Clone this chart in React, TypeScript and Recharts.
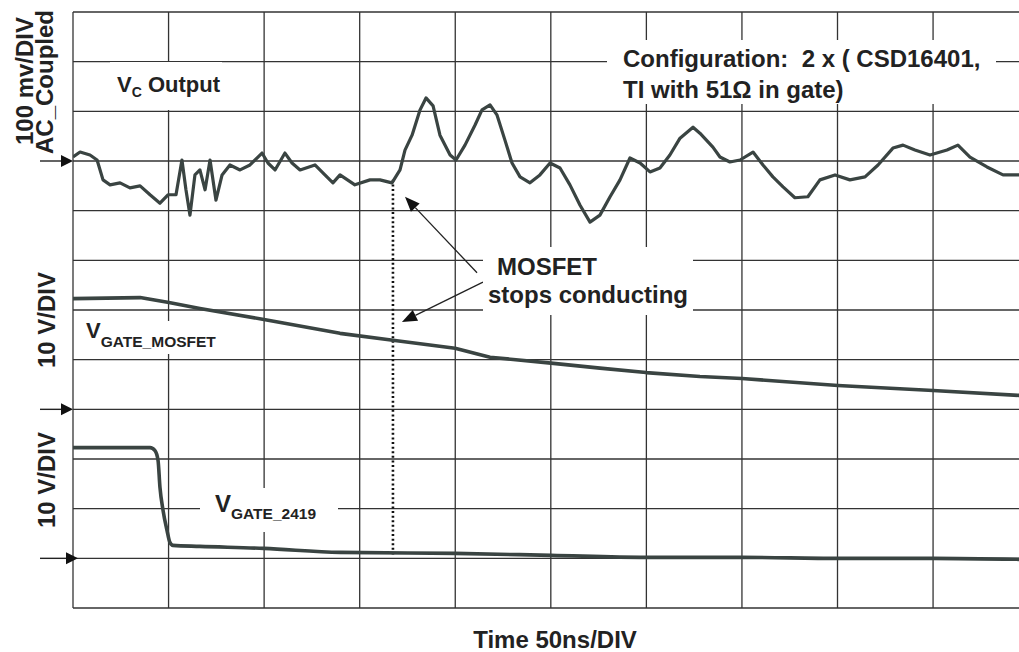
import React from 'react';
import { LineChart, Line, XAxis, YAxis, ReferenceLine } from 'recharts';

// time in ns (50 ns/div)
const vcTime = [0, 3.7, 8.9, 12.6, 15.7, 19.4, 24.6, 29.8, 35.1, 40.3, 45.5, 49.7, 53.9, 57.0, 59.1, 61.2, 63.8, 66.4, 69.1, 71.7, 74.8, 78.0, 82.1, 87.4, 92.6, 98.9, 102.0, 105.7, 110.9, 114.6, 118.8, 126.6, 131.8, 136.0, 139.7, 147.5, 155.4, 160.6, 166.9, 171.1, 173.7, 177.4, 181.6, 184.7, 188.4, 192.0, 197.3, 200.4, 205.1, 210.3, 214.0, 218.2, 221.8, 226.0, 229.7, 233.9, 239.1, 244.3, 249.6, 254.8, 260.0, 265.3, 270.5, 275.7, 281.0, 286.2, 291.4, 296.7, 301.9, 307.1, 312.3, 317.6, 324.4, 328.0, 334.8, 338.5, 343.7, 349.0, 355.8, 361.0, 366.2, 371.5, 377.7, 384.5, 390.8, 398.7, 406.5, 414.4, 421.2, 429.0, 434.3, 440.5, 448.4, 457.3, 463.0, 469.3, 478.2, 486.6, 495.0];
const vcMv = [8, 18, 12, 2, -38, -48, -44, -54, -50, -68, -85, -68, -68, 2, -58, -109, -28, -18, -58, 2, -79, -28, -8, -18, -8, 16, -4, -18, 16, -4, -18, -8, -28, -44, -28, -48, -38, -38, -44, -18, 22, 52, 103, 127, 111, 52, 12, 2, 32, 72, 103, 113, 93, 42, -4, -32, -44, -28, -4, -14, -48, -89, -123, -109, -72, -38, 6, -4, -22, -14, 12, 46, 68, 56, 28, 8, -2, 2, 18, -8, -32, -52, -74, -72, -38, -28, -38, -32, -8, 26, 32, 22, 12, 22, 32, 8, -12, -28, -28];

const gateMosfetTime = [0, 35.1, 50.2, 66.4, 99.9, 139.7, 167.4, 199.9, 218.2, 250.1, 275.7, 299.8, 328.0, 350.0, 400.2, 450.0, 495.0];
const gateMosfetV = [22.3, 22.5, 21.5, 20.3, 18.1, 15.3, 13.9, 12.3, 10.5, 9.3, 8.3, 7.4, 6.6, 6.2, 4.8, 3.8, 2.8];

const gate2419Time = [0, 40.3, 42.9, 44.5, 45.5, 47.1, 49.2, 50.7, 52.3, 66.4, 99.9, 139.7, 199.9, 250.1, 299.8, 350.0, 400.2, 450.0, 495.0];
const gate2419V = [22.3, 22.3, 21.7, 19.7, 14.3, 9.7, 5.6, 3.2, 2.6, 2.4, 2.0, 1.2, 1.0, 0.6, 0.2, 0.2, 0, 0, -0.2];

const timeTicks = [0, 50, 100, 150, 200, 250, 300, 350, 400, 450];
const divTicks = [0, 1, 2, 3, 4, 5, 6, 7, 8, 9, 10, 11, 12];

// channel zero markers (divisions from bottom) and scales
const vcZero = 9;
const gateMosfetZero = 4;
const gate2419Zero = 1;
const mvPerDiv = 100;
const voltsPerDiv = 10;

const stopTime = 167.4;

const vcData = vcTime.map((t, i) => ({ t, y: vcZero + vcMv[i] / mvPerDiv }));
const gateMosfetData = gateMosfetTime.map((t, i) => ({ t, y: gateMosfetZero + gateMosfetV[i] / voltsPerDiv }));
const gate2419Data = gate2419Time.map((t, i) => ({ t, y: gate2419Zero + gate2419V[i] / voltsPerDiv }));

const TRACE = '#3a4442';
const INK = '#222';
const GRID = '#333';
const FONT = "'Liberation Sans', Arial, Helvetica, sans-serif";

const ArrowShape = (props: any) => {
    const { x1, y1, x2, y2 } = props;
    const ang = Math.atan2(y2 - y1, x2 - x1);
    const len = 15;
    const w = 6;
    const bx = x2 - len * Math.cos(ang);
    const by = y2 - len * Math.sin(ang);
    const px = -Math.sin(ang) * w;
    const py = Math.cos(ang) * w;
    return (
        <g>
            <line x1={x1} y1={y1} x2={bx} y2={by} stroke={INK} strokeWidth={1.3} />
            <polygon points={`${x2},${y2} ${bx + px},${by + py} ${bx - px},${by - py}`} fill="#111" />
        </g>
    );
};

const zeroMarker = (overshoot: number) => (props: any) => {
    const left = Math.min(props.x1, props.x2);
    const y = props.y1;
    const tip = left + overshoot;
    return (
        <g>
            <line x1={left - 33} y1={y} x2={tip - 10} y2={y} stroke={INK} strokeWidth={1.4} />
            <polygon points={`${tip},${y} ${tip - 12},${y - 6} ${tip - 12},${y + 6}`} fill="#111" />
        </g>
    );
};

const App: React.FC = () => {
    const txt = { fontFamily: FONT, fontWeight: 700, fill: INK } as const;
    return (
        <div style={{ position: 'absolute', left: 0, top: 0, width: 1019, height: 652, overflow: 'hidden', background: '#fff' }}>
            {/* the scope screen runs a little past the right edge of the picture */}
            <LineChart width={1025} height={652} margin={{ top: 12, right: 0, left: 73, bottom: 44 }}>
                <XAxis
                    dataKey="t"
                    type="number"
                    domain={[0, 498.1]}
                    ticks={timeTicks}
                    interval={0}
                    allowDataOverflow
                    tick={false}
                    tickLine={false}
                    axisLine={false}
                    height={0}
                />
                <YAxis
                    type="number"
                    domain={[0, 12]}
                    ticks={divTicks}
                    interval={0}
                    allowDataOverflow
                    tick={false}
                    tickLine={false}
                    axisLine={false}
                    width={0}
                />
                {timeTicks.map((t) => (
                    <ReferenceLine key={`gx${t}`} x={t} stroke={GRID} strokeWidth={1.3} ifOverflow="visible" />
                ))}
                {divTicks.map((d) => (
                    <ReferenceLine key={`gy${d}`} y={d} stroke={GRID} strokeWidth={1.3} ifOverflow="visible" />
                ))}
                <ReferenceLine y={vcZero} ifOverflow="visible" shape={zeroMarker(0)} />
                <ReferenceLine y={gateMosfetZero} ifOverflow="visible" shape={zeroMarker(0)} />
                <ReferenceLine y={gate2419Zero} ifOverflow="visible" shape={zeroMarker(5)} />
                <ReferenceLine
                    segment={[{ x: stopTime, y: 8.62 }, { x: stopTime, y: 1.07 }]}
                    stroke="#111"
                    strokeWidth={2.6}
                    strokeDasharray="2 2.6"
                />
                <ReferenceLine segment={[{ x: 211.4, y: 6.75 }, { x: 173.7, y: 8.28 }]} shape={ArrowShape} />
                <ReferenceLine segment={[{ x: 214.5, y: 6.56 }, { x: 172.1, y: 5.76 }]} shape={ArrowShape} />
                <Line data={vcData} dataKey="y" type="linear" stroke={TRACE} strokeWidth={3.2} dot={false} isAnimationActive={false} strokeLinejoin="round" />
                <Line data={gateMosfetData} dataKey="y" type="linear" stroke={TRACE} strokeWidth={3.6} dot={false} isAnimationActive={false} strokeLinejoin="round" />
                <Line data={gate2419Data} dataKey="y" type="monotone" stroke={TRACE} strokeWidth={3.6} dot={false} isAnimationActive={false} strokeLinejoin="round" />
            </LineChart>
            <svg width={1019} height={652} style={{ position: 'absolute', left: 0, top: 0, pointerEvents: 'none' }}>
                <rect x={110} y={62} width={112} height={48} fill="#fff" />
                <rect x={607} y={40} width={389} height={64} fill="#fff" />
                <rect x={483} y={247} width={210} height={68} fill="#fff" />
                <rect x={84} y={321} width={138} height={33} fill="#fff" />
                <rect x={200} y={488} width={138} height={44} fill="#fff" />

                <text transform="translate(33,81) rotate(-90)" textAnchor="middle" fontSize={24} {...txt}>100 mv/DIV</text>
                <text transform="translate(53,82) rotate(-90)" textAnchor="middle" fontSize={24} {...txt}>AC_Coupled</text>
                <text transform="translate(55,320) rotate(-90)" textAnchor="middle" fontSize={24} {...txt}>10 V/DIV</text>
                <text transform="translate(55,480) rotate(-90)" textAnchor="middle" fontSize={24} {...txt}>10 V/DIV</text>

                <text x={117} y={92} fontSize={22} {...txt}>
                    V<tspan fontSize={14} dy={5}>C</tspan><tspan fontSize={22} dy={-5}> Output</tspan>
                </text>

                <text x={623} y={67} fontSize={24} style={{ whiteSpace: 'pre' }} {...txt}>Configuration:  2 x ( CSD16401,</text>
                <text x={623} y={98} fontSize={24} {...txt}>TI with 51Ω in gate)</text>

                <text x={497} y={275} fontSize={24} {...txt}>MOSFET</text>
                <text x={488} y={303} fontSize={24} {...txt}>stops conducting</text>

                <text x={86} y={338} fontSize={22} {...txt}>
                    V<tspan fontSize={15.5} dy={9}>GATE_MOSFET</tspan>
                </text>
                <text x={215} y={512} fontSize={24} {...txt}>
                    V<tspan fontSize={15.5} dy={7}>GATE_2419</tspan>
                </text>

                <text x={555} y={648} textAnchor="middle" fontSize={24} {...txt}>Time 50ns/DIV</text>
            </svg>
        </div>
    );
};

export default App;
